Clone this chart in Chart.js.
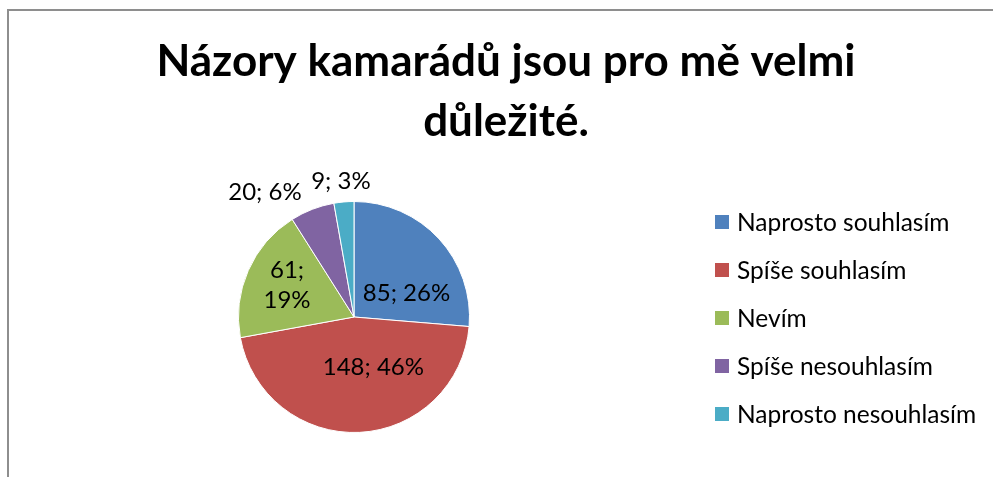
<!DOCTYPE html>
<html>
<head>
<meta charset="utf-8">
<script src="https://cdn.jsdelivr.net/npm/chart.js@4.4.0/dist/chart.umd.min.js"></script>
<style>
  html, body { margin: 0; padding: 0; background: #fff; overflow: hidden; }
  #wrap { position: absolute; left: 0; top: 0; width: 993px; height: 477px; }
</style>
</head>
<body>
<div id="wrap"><canvas id="pie"></canvas></div>
<script>
var titleLines = ['Názory kamarádů jsou pro mě velmi', 'důležité.'];
var categories = ['Naprosto souhlasím', 'Spíše souhlasím', 'Nevím', 'Spíše nesouhlasím', 'Naprosto nesouhlasím'];
var counts = [85, 148, 61, 20, 9];
var colors = ['#4f81bd', '#c0504d', '#9bbb59', '#8064a2', '#4bacc6'];

// where each data label sits: fraction along the slice, fraction of radius, wrap into two lines
var labelPlace = [
    { t: 0.69, r: 0.50, wrap: false },
    { t: 0.39, r: 0.47, wrap: false },
    { t: 0.52, r: 0.64, wrap: true },
    { t: -0.14, r: 1.33, wrap: false },
    { t: 0.45, r: 1.18, wrap: false }
];

var FONT = 'Lato, "Open Sans", sans-serif';

var decorations = {
    id: 'decorations',
    beforeDraw: function (chart) {
        // chart frame, only top and left edge show in the crop
        var ctx = chart.ctx;
        ctx.save();
        ctx.strokeStyle = '#8e8e8e';
        ctx.lineWidth = 2;
        ctx.beginPath();
        ctx.moveTo(8, chart.height);
        ctx.lineTo(8, 10);
        ctx.lineTo(chart.width, 10);
        ctx.stroke();
        ctx.restore();
    },
    afterDatasetsDraw: function (chart) {
        var ctx = chart.ctx;
        var data = chart.data.datasets[0].data;
        var total = data.reduce(function (a, b) { return a + b; }, 0);
        var arcs = chart.getDatasetMeta(0).data;
        ctx.save();
        ctx.fillStyle = '#000';
        ctx.textAlign = 'center';
        ctx.textBaseline = 'middle';
        ctx.font = '24px ' + FONT;
        arcs.forEach(function (arc, i) {
            var p = labelPlace[i];
            var a = arc.startAngle + p.t * (arc.endAngle - arc.startAngle);
            var x = arc.x + Math.cos(a) * arc.outerRadius * p.r;
            var y = arc.y + Math.sin(a) * arc.outerRadius * p.r;
            var pct = Math.round(data[i] / total * 100) + '%';
            if (p.wrap) {
                ctx.fillText(data[i] + ';', x, y - 15);
                ctx.fillText(pct, x, y + 15);
            } else {
                ctx.fillText(data[i] + '; ' + pct, x, y);
            }
        });

        // title
        ctx.font = 'bold 44px ' + FONT;
        ctx.textBaseline = 'alphabetic';
        ctx.fillText(titleLines[0], 506, 76);
        ctx.fillText(titleLines[1], 506, 136);

        // legend
        ctx.font = '24.5px ' + FONT;
        ctx.textAlign = 'left';
        ctx.textBaseline = 'middle';
        chart.data.labels.forEach(function (lab, i) {
            var y = 222 + i * 48;
            ctx.fillStyle = colors[i];
            ctx.fillRect(715, y - 7, 14, 14);
            ctx.fillStyle = '#000';
            ctx.fillText(lab, 737, y + 1);
        });
        ctx.restore();
    }
};

var ctx = document.getElementById('pie').getContext('2d');
var chart = new Chart(ctx, {
    type: 'pie',
    data: {
        labels: categories,
        datasets: [{
            data: counts,
            backgroundColor: colors,
            borderColor: '#ffffff',
            borderWidth: 1
        }]
    },
    options: {
        responsive: true,
        maintainAspectRatio: false,
        animation: false,
        layout: { padding: { left: 238, right: 523, top: 201, bottom: 44 } },
        plugins: {
            legend: { display: false },
            title: { display: false },
            tooltip: { enabled: false }
        }
    },
    plugins: [decorations]
});
</script>
</body>
</html>
